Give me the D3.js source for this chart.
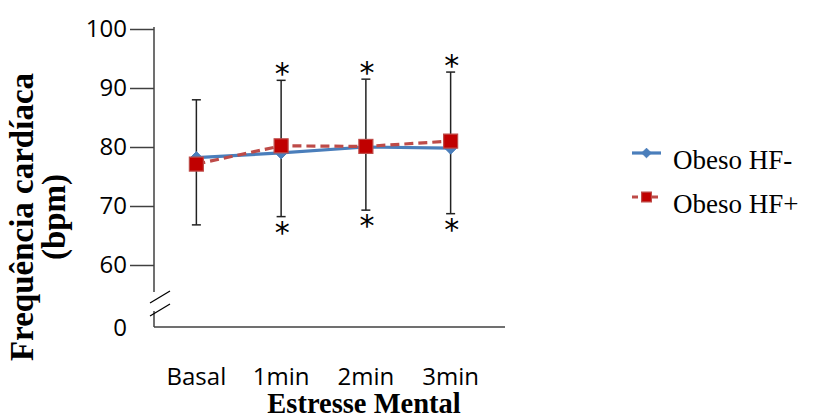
<!DOCTYPE html>
<html>
<head>
<meta charset="utf-8">
<script src="https://cdn.jsdelivr.net/npm/d3@7"></script>
<style>
  body { margin: 0; background: #fff; }
  svg { display: block; }
</style>
</head>
<body>
<svg width="814" height="419"></svg>
<script>
// dados
const categorias = ["Basal", "1min", "2min", "3min"];
const obesoHFmenos = [78.2, 79.0, 80.0, 79.8];
const obesoHFmais = [77.1, 80.2, 80.1, 81.0];
const erroSup = [88.0, 91.3, 91.5, 92.7];
const erroInf = [66.8, 68.2, 69.3, 68.7];
const signif = [false, true, true, true];
const yTicks = [60, 70, 80, 90, 100];
const series = [
  { nome: "Obeso HF-", valores: obesoHFmenos, cor: "#4a7ebb", dash: null, marca: "diamond" },
  { nome: "Obeso HF+", valores: obesoHFmais, cor: "#be4b48", dash: "9,5", marca: "square" }
];

const svg = d3.select("svg");
const axisColor = "#404040";
const eixoX0 = 154, eixoY0 = 327;

const x = d3.scalePoint().domain(categorias).range([154, 493]).padding(0.5);
const y = d3.scaleLinear().domain([60, 100]).range([265, 29]);

// eixo y com quebra
const yAxis = svg.append("g")
  .attr("transform", `translate(${eixoX0},0)`)
  .call(d3.axisLeft(y).tickValues(yTicks).tickSize(24).tickPadding(3).tickSizeOuter(0));
yAxis.select(".domain").remove();
yAxis.selectAll(".tick line").attr("stroke", axisColor).attr("stroke-width", 1.5);
yAxis.selectAll(".tick text")
  .attr("font-family", "'Open Sans', sans-serif")
  .attr("font-size", 24)
  .attr("fill", "#000");

svg.append("line").attr("x1", eixoX0).attr("x2", eixoX0).attr("y1", y(100) - 2).attr("y2", 292)
  .attr("stroke", axisColor).attr("stroke-width", 1.5);
svg.append("line").attr("x1", eixoX0).attr("x2", eixoX0).attr("y1", 311).attr("y2", eixoY0)
  .attr("stroke", axisColor).attr("stroke-width", 1.5);
// marcas de quebra
[[150, 303, 170, 291], [150, 316, 170, 304]].forEach(d => {
  svg.append("line").attr("x1", d[0]).attr("y1", d[1]).attr("x2", d[2]).attr("y2", d[3])
    .attr("stroke", "#000").attr("stroke-width", 1.3);
});
svg.append("text").attr("x", 127).attr("y", eixoY0).attr("dy", "0.36em")
  .attr("text-anchor", "end")
  .attr("font-family", "'Open Sans', sans-serif").attr("font-size", 24)
  .text("0");

// eixo x
svg.append("line").attr("x1", eixoX0).attr("x2", 505).attr("y1", eixoY0).attr("y2", eixoY0)
  .attr("stroke", axisColor).attr("stroke-width", 1.5);
svg.selectAll(".xlab").data(categorias).enter().append("text")
  .attr("x", d => x(d)).attr("y", 385)
  .attr("text-anchor", "middle")
  .attr("font-family", "'Open Sans', sans-serif").attr("font-size", 24)
  .text(d => d);

// títulos
svg.append("text").attr("x", 364).attr("y", 413)
  .attr("text-anchor", "middle")
  .attr("font-family", "'Liberation Serif', 'Times New Roman', serif")
  .attr("font-weight", "bold").attr("font-size", 28.5)
  .text("Estresse Mental");

const yt = svg.append("text")
  .attr("transform", "translate(0,217) rotate(-90)")
  .attr("text-anchor", "middle")
  .attr("font-family", "'Liberation Serif', 'Times New Roman', serif")
  .attr("font-weight", "bold").attr("font-size", 33);
yt.append("tspan").attr("x", 0).attr("y", 33).text("Frequência cardíaca");
yt.append("tspan").attr("x", 0).attr("y", 65).text("(bpm)");

// barras de erro
const eb = svg.append("g");
categorias.forEach((c, i) => {
  const cx = x(c);
  eb.append("line").attr("x1", cx).attr("x2", cx).attr("y1", y(erroSup[i])).attr("y2", y(erroInf[i]))
    .attr("stroke", "#222").attr("stroke-width", 1.5);
  [erroSup[i], erroInf[i]].forEach(v => {
    eb.append("line").attr("x1", cx - 4.5).attr("x2", cx + 4.5).attr("y1", y(v)).attr("y2", y(v))
      .attr("stroke", "#222").attr("stroke-width", 1.5);
  });
  if (signif[i]) {
    eb.append("text").attr("x", cx + 1).attr("y", y(erroSup[i]) + 4)
      .attr("text-anchor", "middle")
      .attr("font-family", "'DejaVu Sans', sans-serif").attr("font-size", 30)
      .text("*");
    eb.append("text").attr("x", cx + 1).attr("y", y(erroInf[i]) + 26)
      .attr("text-anchor", "middle")
      .attr("font-family", "'DejaVu Sans', sans-serif").attr("font-size", 30)
      .text("*");
  }
});

// linhas e marcadores
const line = d3.line().x((d, i) => x(categorias[i])).y(d => y(d));

function marcador(g, tipo, cx, cy, cor, escala) {
  if (tipo === "diamond") {
    const s = 6 * escala;
    g.append("path").attr("d", `M${cx},${cy - s}L${cx + s},${cy}L${cx},${cy + s}L${cx - s},${cy}Z`)
      .attr("fill", cor).attr("stroke", cor);
  } else {
    const s = 7 * escala;
    g.append("rect").attr("x", cx - s).attr("y", cy - s).attr("width", 2 * s).attr("height", 2 * s)
      .attr("fill", "#c00000").attr("stroke", cor).attr("stroke-width", 1.2);
  }
}

series.forEach(s => {
  const g = svg.append("g");
  g.append("path").datum(s.valores).attr("d", line)
    .attr("fill", "none").attr("stroke", s.cor).attr("stroke-width", 3.2)
    .attr("stroke-dasharray", s.dash);
  s.valores.forEach((v, i) => marcador(g, s.marca, x(categorias[i]), y(v), s.cor, 1));
});

// legenda
series.forEach((s, i) => {
  const ly = 153 + i * 44;
  const g = svg.append("g");
  g.append("line").attr("x1", 632).attr("x2", 661).attr("y1", ly).attr("y2", ly)
    .attr("stroke", s.cor).attr("stroke-width", 3.2).attr("stroke-dasharray", s.dash ? "6,4" : null);
  marcador(g, s.marca, 646.5, ly, s.cor, s.marca === "square" ? 0.7 : 0.8);
  g.append("text").attr("x", 673).attr("y", ly + 16)
    .attr("font-family", "'Liberation Serif', 'Times New Roman', serif")
    .attr("font-size", 27)
    .text(s.nome);
});
</script>
</body>
</html>
